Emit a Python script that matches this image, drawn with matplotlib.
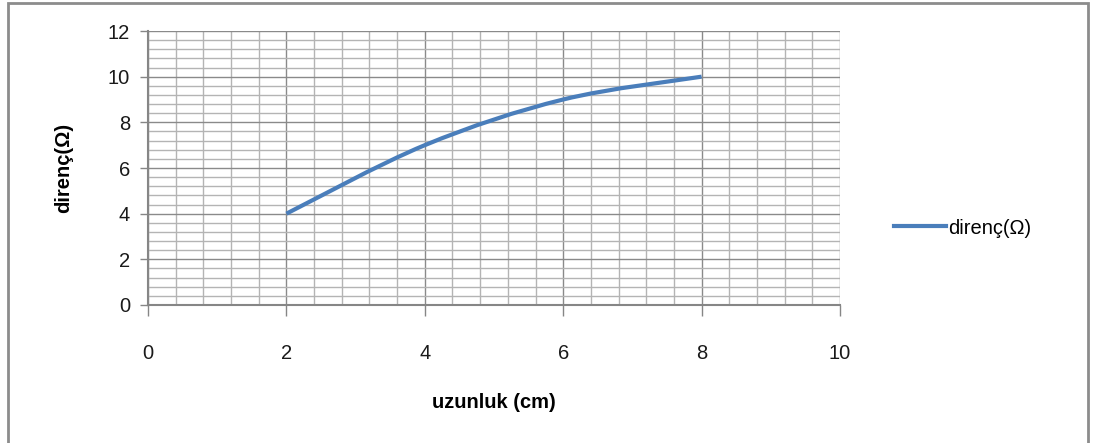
import numpy as np
import matplotlib
matplotlib.use("Agg")
import matplotlib.pyplot as plt
from matplotlib.path import Path
from matplotlib.patches import PathPatch, Rectangle
from matplotlib.lines import Line2D
from matplotlib.ticker import MultipleLocator

plt.rcParams['font.family'] = ['Liberation Sans', 'DejaVu Sans']

# data
uzunluk = [2, 4, 6, 8]        # cm
direnc = [4, 7, 9, 10]        # ohm
series_name = "direnç(Ω)"
x_label = "uzunluk (cm)"
y_label = "direnç(Ω)"

blue = "#4a7ebb"

fig = plt.figure(figsize=(10.98, 4.43), dpi=100)
ax = fig.add_axes([148 / 1098, 138 / 443, 692 / 1098, 274 / 443])

ax.set_xlim(0, 10)
ax.set_ylim(0, 12)
ax.xaxis.set_major_locator(MultipleLocator(2))
ax.xaxis.set_minor_locator(MultipleLocator(0.4))
ax.yaxis.set_major_locator(MultipleLocator(2))
ax.yaxis.set_minor_locator(MultipleLocator(0.4))

ax.grid(which='minor', color='#b4b4b4', lw=1.0)
ax.grid(which='major', color='#8a8a8a', lw=1.0)
ax.set_axisbelow(True)

for s in ['top', 'right']:
    ax.spines[s].set_visible(False)
for s in ['left', 'bottom']:
    ax.spines[s].set_color('#868686')
    ax.spines[s].set_linewidth(1.5)

ax.tick_params(which='minor', length=0)
ax.tick_params(which='major', direction='out', length=6, width=1, color='#868686',
               labelsize=14.5, labelcolor='#1a1a1a')
ax.tick_params(axis='x', which='major', length=8, pad=20)
ax.tick_params(axis='y', which='major', pad=7)

# smoothed line (Excel style, Catmull-Rom -> cubic bezier)
pts = np.column_stack([uzunluk, direnc]).astype(float)
verts = [tuple(pts[0])]
codes = [Path.MOVETO]
n = len(pts)
for i in range(n - 1):
    p0 = pts[i - 1] if i > 0 else pts[i]
    p1 = pts[i]
    p2 = pts[i + 1]
    p3 = pts[i + 2] if i + 2 < n else pts[i + 1]
    c1 = p1 + (p2 - p0) / 6.0
    c2 = p2 - (p3 - p1) / 6.0
    verts += [tuple(c1), tuple(c2), tuple(p2)]
    codes += [Path.CURVE4] * 3
ax.add_patch(PathPatch(Path(verts, codes), facecolor='none', edgecolor=blue,
                       lw=3, capstyle='butt', zorder=3))

ax.set_xlabel(x_label, fontsize=14.5, fontweight='bold', labelpad=22)
ax.set_ylabel(y_label, fontsize=14.5, fontweight='bold', labelpad=25)

handle = Line2D([], [], color=blue, lw=3)
fig.legend([handle], [series_name], loc='center left',
           bbox_to_anchor=(876 / 1098, 1 - 228 / 443), frameon=False,
           fontsize=14.5, handlelength=2.6, handletextpad=0.1)

# outer chart border
fig.patches.append(Rectangle((8 / 1098, -0.02), 1080 / 1098, 1 - 3 / 443 + 0.02,
                             transform=fig.transFigure, fill=False,
                             edgecolor='#8c8c8c', lw=2))

fig.savefig("out.png", dpi=100)
